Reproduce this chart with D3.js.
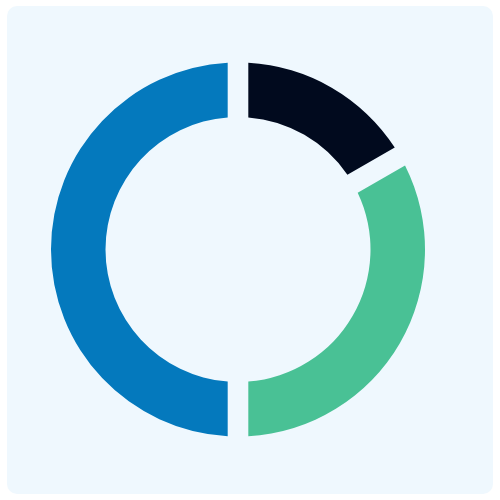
<!DOCTYPE html>
<html>
<head>
<meta charset="utf-8">
<script src="https://cdn.jsdelivr.net/npm/d3@7"></script>
<style>
  html, body { margin: 0; padding: 0; background: #ffffff; }
  svg { display: block; }
</style>
</head>
<body>
<svg id="chart" width="500" height="500"></svg>
<script>
const categories = ["Segment A", "Segment B", "Segment C"];
const values = [16.7, 33.3, 50];
const colors = ["#010A1E", "#49C195", "#0479BD"];

const svg = d3.select("#chart");
svg.append("rect")
  .attr("x", 7).attr("y", 6)
  .attr("width", 486).attr("height", 488)
  .attr("rx", 10).attr("ry", 10)
  .attr("fill", "#EFF8FE");

const cx = 238, cy = 249.5, outerR = 187, innerR = 132.5;
const pie = d3.pie().sort(null).value(d => d.value);
const arc = d3.arc().innerRadius(innerR).outerRadius(outerR).padAngle(0.09);

const data = categories.map((c, i) => ({ name: c, value: values[i], color: colors[i] }));

svg.append("g")
  .attr("transform", `translate(${cx},${cy})`)
  .selectAll("path")
  .data(pie(data))
  .join("path")
  .attr("d", arc)
  .attr("fill", d => d.data.color);
</script>
</body>
</html>
